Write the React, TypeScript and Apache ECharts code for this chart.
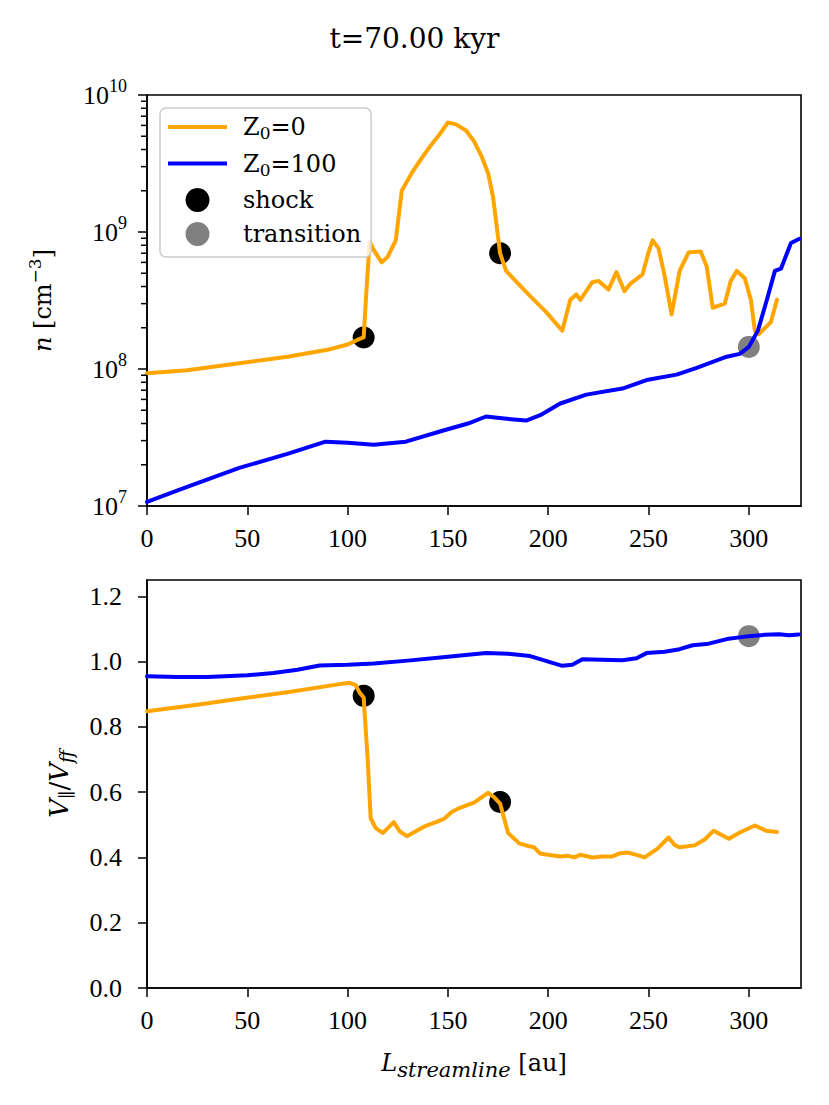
import React, { useEffect, useRef } from "react";
import * as echarts from "echarts";

// ---------- data ----------
// top panel: number density n [cm^-3] along the streamline
const L_N_Z0 = [0, 20, 46, 70, 90, 100, 106, 108, 109.5, 111, 113, 117, 120, 124, 127, 132, 136, 141, 146, 150, 154, 159, 163, 167, 170, 172.5, 174, 176, 179, 185, 191, 199, 207, 211, 214, 216, 222, 225, 230, 234, 238, 241, 247, 250, 252, 255, 258, 261.5, 265.5, 270, 276, 279, 282, 288, 291, 294, 298, 301, 303, 305, 311, 314];
const N_Z0 = [9.3e7, 9.8e7, 1.1e8, 1.23e8, 1.38e8, 1.51e8, 1.66e8, 1.7e8, 4.0e8, 8.5e8, 7.4e8, 6.0e8, 6.6e8, 8.7e8, 2.0e9, 2.7e9, 3.3e9, 4.2e9, 5.2e9, 6.3e9, 6.1e9, 5.5e9, 4.6e9, 3.5e9, 2.7e9, 1.8e9, 1.2e9, 7.0e8, 5.2e8, 4.2e8, 3.4e8, 2.6e8, 1.9e8, 3.2e8, 3.5e8, 3.2e8, 4.3e8, 4.4e8, 3.8e8, 5.1e8, 3.7e8, 4.2e8, 4.9e8, 7.1e8, 8.7e8, 7.6e8, 4.8e8, 2.5e8, 5.2e8, 7.1e8, 7.2e8, 5.6e8, 2.8e8, 3.0e8, 4.4e8, 5.2e8, 4.6e8, 3.2e8, 1.9e8, 1.8e8, 2.2e8, 3.2e8];

const L_N_Z100 = [0, 20, 46, 70, 89, 100, 113, 129, 146, 160, 169, 178, 189, 196, 206, 219, 237, 249, 264, 274, 289, 295.5, 300, 304.5, 309, 313, 316, 321, 325];
const N_Z100 = [1.07e7, 1.38e7, 1.9e7, 2.4e7, 2.95e7, 2.9e7, 2.8e7, 2.95e7, 3.5e7, 4.0e7, 4.5e7, 4.35e7, 4.2e7, 4.6e7, 5.6e7, 6.5e7, 7.2e7, 8.3e7, 9.1e7, 1.02e8, 1.23e8, 1.29e8, 1.45e8, 1.9e8, 3.2e8, 5.2e8, 5.4e8, 8.3e8, 8.9e8];

// bottom panel: V_par / V_ff along the streamline
const L_V_Z0 = [0, 25, 46, 70, 96, 101, 104, 106, 108, 110, 111.5, 114, 117.5, 120, 123, 126, 129.5, 134, 139, 144, 148, 152, 156, 163, 170, 173, 176, 178, 180, 185.5, 190, 193, 196, 200, 206, 210, 213, 216, 222, 227, 232, 236, 239.5, 244, 248, 254.5, 260, 263, 265.5, 273, 278, 282.5, 286, 290, 296, 303, 308.5, 314];
const V_Z0 = [0.848, 0.868, 0.886, 0.906, 0.931, 0.935, 0.928, 0.905, 0.89, 0.7, 0.52, 0.49, 0.475, 0.49, 0.508, 0.48, 0.465, 0.48, 0.497, 0.508, 0.518, 0.54, 0.552, 0.568, 0.598, 0.585, 0.565, 0.52, 0.475, 0.443, 0.435, 0.431, 0.412, 0.408, 0.403, 0.405, 0.4, 0.408, 0.4, 0.403, 0.403, 0.413, 0.415, 0.408, 0.4, 0.427, 0.461, 0.438, 0.431, 0.437, 0.455, 0.482, 0.47, 0.457, 0.478, 0.498, 0.482, 0.478];

const L_V_Z100 = [0, 15, 30, 50, 63, 75, 86, 100, 113, 130, 150, 169, 180, 191, 200, 207, 212, 217, 227, 237, 244, 249, 258, 265.5, 272, 280, 289, 300, 308, 315, 320, 325];
const V_Z100 = [0.955, 0.953, 0.953, 0.958, 0.965, 0.975, 0.988, 0.99, 0.994, 1.003, 1.015, 1.026, 1.024, 1.017, 1.0, 0.987, 0.99, 1.007, 1.006, 1.004, 1.01, 1.026, 1.03, 1.038, 1.05, 1.055, 1.069, 1.078, 1.082, 1.084, 1.081, 1.083];

// markers
const SHOCK_L = [108, 176];
const SHOCK_N = [1.7e8, 7.0e8];
const SHOCK_V = [0.895, 0.57];
const TRANS_L = [300];
const TRANS_N = [1.45e8];
const TRANS_V = [1.078];

// ticks
const X_TICKS = [0, 50, 100, 150, 200, 250, 300];
const V_TICKS = [0, 0.2, 0.4, 0.6, 0.8, 1.0, 1.2];
const N_MINOR_TICKS = [2e7, 3e7, 4e7, 5e7, 6e7, 7e7, 8e7, 9e7, 2e8, 3e8, 4e8, 5e8, 6e8, 7e8, 8e8, 9e8, 2e9, 3e9, 4e9, 5e9, 6e9, 7e9, 8e9, 9e9];

const ORANGE = "#FFA500";
const BLUE = "#0000FF";
const GRAY = "#808080";
const TICK_FONT = "Liberation Serif";
const TEXT_FONT = "DejaVu Serif";
const LINE_W = 4;

const zip = (xs: number[], ys: number[]) => xs.map((x, i) => [x, ys[i]]);

const LINE_ICON = "path://M0,0L60,0L60,4L0,4Z";

function buildOption(): any {
  const axisLine = { show: true, onZero: false, lineStyle: { color: "#000", width: 1.6 } };
  const tickStyle = { color: "#000", width: 1.5 };
  const tickLabel = { fontFamily: TICK_FONT, fontSize: 26, color: "#000" };

  const xAxis = (gridIndex: number, withName: boolean) => ({
    type: "value",
    gridIndex,
    min: 0,
    max: 326,
    interval: 50,
    axisLine,
    axisTick: { show: true, inside: false, length: 9, lineStyle: tickStyle, customValues: X_TICKS },
    axisLabel: {
      ...tickLabel,
      margin: 19,
      customValues: X_TICKS,
      formatter: (v: number) => (v % 50 === 0 ? String(v) : ""),
    },
    splitLine: { show: false },
    ...(withName
      ? {
          name: "{i|L}{subi|streamline} [au]",
          nameLocation: "middle",
          nameGap: 57,
          nameTextStyle: {
            fontFamily: TEXT_FONT,
            fontSize: 24,
            color: "#000",
            rich: {
              i: { fontFamily: TEXT_FONT, fontStyle: "italic", fontSize: 24, color: "#000" },
              subi: { fontFamily: TEXT_FONT, fontStyle: "italic", fontSize: 21, color: "#000", padding: [14, 0, 0, 0] },
            },
          },
        }
      : {}),
  });

  const lineSeries = (name: string, xi: number, yi: number, data: number[][], color: string) => ({
    name, type: "line", xAxisIndex: xi, yAxisIndex: yi, data,
    symbol: "none", showSymbol: false, smooth: false,
    lineStyle: { color, width: LINE_W, cap: "round", join: "round" }, itemStyle: { color }, z: 3,
  });
  const dotSeries = (name: string, xi: number, yi: number, data: number[][], color: string) => ({
    name, type: "scatter", xAxisIndex: xi, yAxisIndex: yi, data,
    symbol: "circle", symbolSize: 22, itemStyle: { color, opacity: 1 }, z: 2,
  });

  return {
    animation: false,
    backgroundColor: "#fff",
    title: {
      text: "t=70.00 kyr",
      left: "center",
      top: 19,
      textStyle: { fontFamily: TEXT_FONT, fontSize: 28, fontWeight: "normal", color: "#000" },
    },
    grid: [
      { left: 147, top: 95, width: 654, height: 411, show: true, borderColor: "#000", borderWidth: 1.6, backgroundColor: "transparent", containLabel: false },
      { left: 147, top: 580, width: 654, height: 408, show: true, borderColor: "#000", borderWidth: 1.6, backgroundColor: "transparent", containLabel: false },
    ],
    legend: {
      data: [
        { name: "Z0=0", icon: LINE_ICON, itemStyle: { color: ORANGE } },
        { name: "Z0=100", icon: LINE_ICON, itemStyle: { color: BLUE } },
        { name: "shock", icon: "circle", itemStyle: { color: "#000", opacity: 1 } },
        { name: "transition", icon: "circle", itemStyle: { color: GRAY, opacity: 1 } },
      ],
      orient: "vertical",
      left: 160,
      top: 108,
      itemWidth: 59,
      itemHeight: 24,
      itemGap: 10,
      symbolKeepAspect: true,
      padding: [7, 10, 11, 8],
      backgroundColor: "rgba(255,255,255,0.8)",
      borderColor: "#cccccc",
      borderWidth: 1.5,
      borderRadius: 6,
      selectedMode: false,
      formatter: (name: string) => {
        if (name === "Z0=0") return "{n|Z}{sub|0}{n|=0}";
        if (name === "Z0=100") return "{n|Z}{sub|0}{n|=100}";
        return "{n|" + name + "}";
      },
      textStyle: {
        fontFamily: TEXT_FONT,
        fontSize: 24,
        color: "#000",
        padding: [0, 0, 0, 11],
        rich: {
          n: { fontFamily: TEXT_FONT, fontSize: 24, color: "#000" },
          sub: { fontFamily: TEXT_FONT, fontSize: 17, color: "#000", padding: [12, 0, 0, 0] },
        },
      },
    },
    xAxis: [xAxis(0, false), xAxis(1, true)],
    yAxis: [
      {
        type: "log",
        logBase: 10,
        gridIndex: 0,
        min: 1e7,
        max: 1e10,
        axisLine,
        axisTick: { show: true, inside: false, length: 9, lineStyle: tickStyle },
        axisLabel: {
          margin: 20,
          formatter: (v: number) => "{b|10}{s|" + Math.round(Math.log10(v)) + "}",
          rich: {
            b: { fontFamily: TICK_FONT, fontSize: 26, color: "#000" },
            s: { fontFamily: TICK_FONT, fontSize: 18, color: "#000", padding: [0, 0, 18, 0] },
          },
        },
        splitLine: { show: false },
        name: "{i|n} [cm{s|\u22123}]",
        nameLocation: "middle",
        nameRotate: 90,
        nameGap: 88,
        nameTextStyle: {
          fontFamily: TEXT_FONT,
          fontSize: 24,
          color: "#000",
          rich: {
            i: { fontFamily: TEXT_FONT, fontStyle: "italic", fontSize: 24, color: "#000" },
            s: { fontFamily: TEXT_FONT, fontSize: 17, color: "#000", padding: [0, 0, 16, 0] },
          },
        },
      },
      {
        type: "value",
        gridIndex: 1,
        min: 0,
        max: 1.25,
        interval: 0.2,
        axisLine,
        axisTick: { show: true, inside: false, length: 9, lineStyle: tickStyle, customValues: V_TICKS },
        axisLabel: {
          ...tickLabel,
          margin: 25,
          customValues: V_TICKS,
          formatter: (v: number) => (Math.abs(Math.round(v * 5) - v * 5) < 1e-6 ? v.toFixed(1) : ""),
        },
        splitLine: { show: false },
        name: "{i|V}{sub|\u2225}{n|/}{i|V}{subi|ff}",
        nameLocation: "middle",
        nameRotate: 90,
        nameGap: 72,
        nameTextStyle: {
          fontFamily: TEXT_FONT,
          fontSize: 26,
          color: "#000",
          rich: {
            i: { fontFamily: TEXT_FONT, fontStyle: "italic", fontSize: 26, color: "#000" },
            n: { fontFamily: TEXT_FONT, fontSize: 26, color: "#000" },
            sub: { fontFamily: TEXT_FONT, fontSize: 18, color: "#000", padding: [14, 0, 0, 0] },
            subi: { fontFamily: TEXT_FONT, fontStyle: "italic", fontSize: 18, color: "#000", padding: [14, 0, 0, 0] },
          },
        },
      },
    ],
    series: [
      lineSeries("Z0=0", 0, 0, zip(L_N_Z0, N_Z0), ORANGE),
      lineSeries("Z0=100", 0, 0, zip(L_N_Z100, N_Z100), BLUE),
      dotSeries("shock", 0, 0, zip(SHOCK_L, SHOCK_N), "#000"),
      dotSeries("transition", 0, 0, zip(TRANS_L, TRANS_N), GRAY),
      lineSeries("Z0=0", 1, 1, zip(L_V_Z0, V_Z0), ORANGE),
      lineSeries("Z0=100", 1, 1, zip(L_V_Z100, V_Z100), BLUE),
      dotSeries("shock", 1, 1, zip(SHOCK_L, SHOCK_V), "#000"),
      dotSeries("transition", 1, 1, zip(TRANS_L, TRANS_V), GRAY),
      {
        // minor log ticks on the left spine of the top panel (placed through the log axis)
        name: "minor ticks",
        type: "scatter",
        xAxisIndex: 0,
        yAxisIndex: 0,
        data: N_MINOR_TICKS.map((v) => [0, v]),
        clip: false,
        silent: true,
        symbol: "rect",
        symbolSize: [6, 1.5],
        symbolOffset: [-3, 0],
        itemStyle: { color: "#000", opacity: 1 },
        z: 10,
      },
    ],
  };
}

export default function App() {
  const ref = useRef<HTMLDivElement>(null);
  useEffect(() => {
    document.body.style.margin = "0";
    if (!ref.current) return;
    const chart = echarts.init(ref.current, undefined, { renderer: "svg" });
    chart.setOption(buildOption());
    return () => chart.dispose();
  }, []);
  return <div ref={ref} style={{ width: 829, height: 1105, background: "#fff" }} />;
}
